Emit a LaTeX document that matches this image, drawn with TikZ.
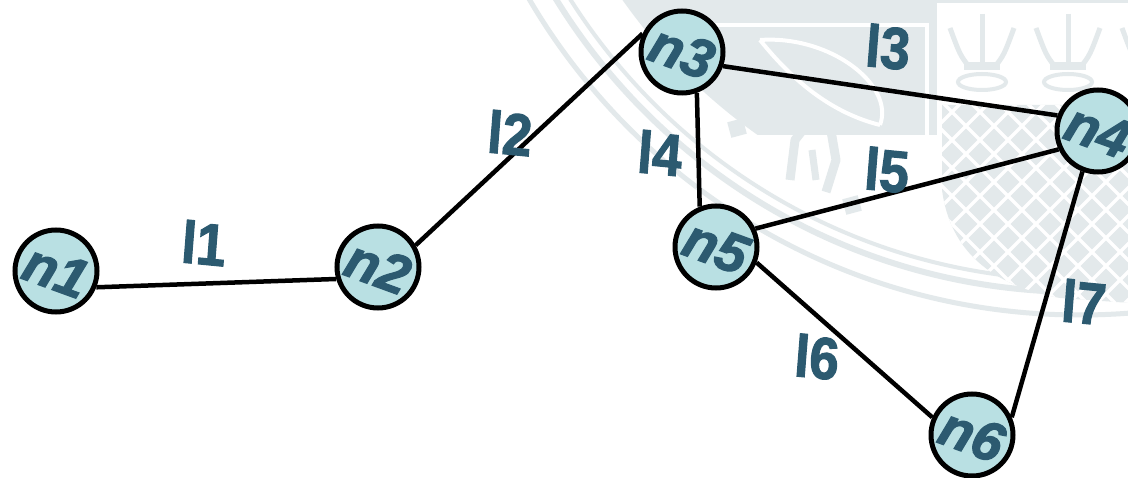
\documentclass[tikz,border=0pt]{standalone}
\usepackage{fontspec}
\setmainfont{Liberation Sans}[BoldFeatures={FakeBold=2},BoldItalicFeatures={FakeBold=2}]
\definecolor{labelblue}{HTML}{2C5A70}
\definecolor{nodefill}{HTML}{B9E0E3}
\definecolor{seal}{HTML}{E3E9EB}
\begin{document}
\begin{tikzpicture}[x=1pt,y=-1pt,
  vertex/.style={circle, draw=black, line width=5pt, fill=nodefill,
    minimum size=82pt, inner sep=0pt},
  nodetext/.style={text=labelblue, inner sep=0pt, rotate=-20,
    font=\fontsize{55}{55}\selectfont\bfseries\itshape},
  link/.style={line width=4.5pt, draw=black},
  linklabel/.style={text=labelblue, inner sep=0pt, xscale=0.9, rotate=-5,
    font=\fontsize{59}{59}\selectfont\bfseries}]
\useasboundingbox (0,0) rectangle (1128,478);
\fill[white] (0,0) rectangle (1128,478);

% faint seal in the background
\begin{scope}
  \clip (0,0) rectangle (1128,478);
  \draw[seal, line width=5pt] (1080,-323) circle (638);
  \draw[seal, line width=6pt] (1080,-323) circle (615);
  \draw[seal, line width=4pt] (1080,-323) circle (603);
  % upper left panel
  \begin{scope}
    \clip (1080,-323) circle (560);
    \fill[seal] (600,-5) rectangle (937,135);
  \end{scope}
  \draw[white, line width=4pt] (700,25) -- (927,25) -- (927,140);
  \draw[white, line width=4pt] (760,40) .. controls (830,35) and (895,85) .. (880,125);
  \draw[white, line width=4pt] (760,40) .. controls (800,90) and (840,115) .. (880,125);
  % strip above the crowns
  \fill[seal] (937,-5) rectangle (1130,3);
  % crowns
  \foreach \cx in {982,1068,1154} {
    \draw[seal, line width=4pt] (\cx,82) ellipse (24 and 8);
    \draw[seal, line width=5pt] (\cx,14) -- (\cx,68);
    \draw[seal, line width=5pt] (\cx-32,28) .. controls (\cx-22,55) .. (\cx-12,68);
    \draw[seal, line width=5pt] (\cx+32,28) .. controls (\cx+22,55) .. (\cx+12,68);
    \fill[seal] (\cx-18,62) rectangle (\cx+18,70);
  }
  % cross-hatched field
  \begin{scope}
    \clip (942,105) -- (942,190) .. controls (950,250) and (990,285) .. (1060,298)
      -- (1130,303) -- (1130,105) -- cycle;
    \fill[seal] (900,90) rectangle (1140,320);
    \foreach \k in {20,...,60} {
      \draw[white, line width=3.5pt] (\k*28,0) -- ++(400,400);
      \draw[white, line width=3.5pt] (\k*28,0) -- ++(-400,400);
    }
  \end{scope}
  % script marks
  \fill[seal, rotate around={15:(757,96)}] (748,87) rectangle (766,105);
  \fill[seal, rotate around={15:(737,128)}] (729,120) rectangle (745,136);
  \fill[seal, rotate around={15:(852,205)}] (844,197) rectangle (860,213);
  \draw[seal, line width=9pt, line join=round]
    (790,180) -- (795,140) -- (812,118) -- (830,125) -- (836,160) -- (826,192);
  \draw[seal, line width=7pt] (812,150) -- (816,180);
\end{scope}

% nodes
\node[vertex, label={[nodetext]center:n1}] (n1) at (56,271) {};
\node[vertex, label={[nodetext]center:n2}] (n2) at (378,267) {};
\node[vertex, label={[nodetext]center:n3}] (n3) at (682,52) {};
\node[vertex, label={[nodetext]center:n4}] (n4) at (1098,131) {};
\node[vertex, label={[nodetext]center:n5}] (n5) at (716,247) {};
\node[vertex, label={[nodetext]center:n6}] (n6) at (972,435) {};

% links
\draw[link] (n1.-22) -- (n2.196);
\draw[link] (n2.30) -- (n3.155);
\draw[link] (n3.-19) -- (n4.159);
\draw[link] (n3.-70) -- (n5.112);
\draw[link] (n5.25) -- (n4.205);
\draw[link] (n5.-21) -- (n6.156);
\draw[link] (n4.249) -- (n6.24);

% link labels
\node[linklabel] (l1) at (204,243) {l1};
\node[linklabel] (l2) at (510,133) {l2};
\node[linklabel] (l3) at (888,47) {l3};
\node[linklabel] (l4) at (660,153) {l4};
\node[linklabel] (l5) at (887,170) {l5};
\node[linklabel] (l6) at (817,357) {l6};
\node[linklabel] (l7) at (1084,302) {l7};
\end{tikzpicture}
\end{document}
